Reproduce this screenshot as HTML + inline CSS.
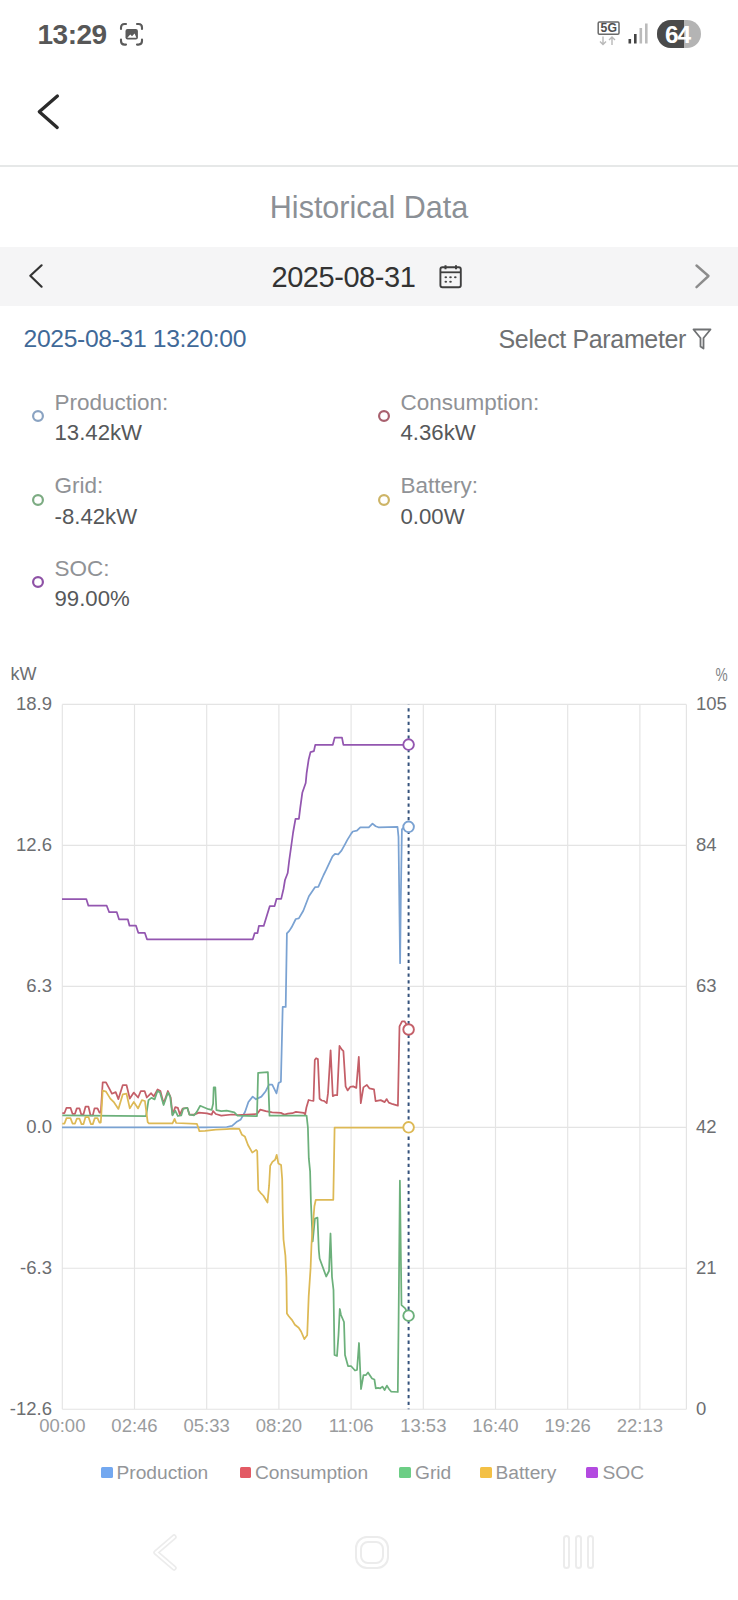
<!DOCTYPE html>
<html><head><meta charset="utf-8"><title>Historical Data</title>
<style>
html,body{margin:0;padding:0;background:#fff;}
body{width:738px;height:1600px;position:relative;overflow:hidden;font-family:"Liberation Sans", sans-serif;}
</style></head><body>
<div style='position:absolute;top:20.65px;font-size:28px;line-height:28px;color:#575757;font-weight:700;white-space:nowrap;letter-spacing:-0.5px;left:37.50px;'>13:29</div>
<svg style="position:absolute;left:114px;top:18px" width="36" height="32" viewBox="0 0 36 32">
<g fill="none" stroke="#5a5a5a" stroke-width="2.1" stroke-linecap="round">
<path d="M7 11 V9.5 Q7 6 10.5 6 H12"/><path d="M23 6 H24.5 Q28 6 28 9.5 V11"/>
<path d="M28 21.6 V23.1 Q28 26.6 24.5 26.6 H23"/><path d="M12 26.6 H10.5 Q7 26.6 7 23.1 V21.6"/>
</g>
<rect x="11.5" y="11" width="12.4" height="10.5" rx="2" fill="#5a5a5a"/>
<path d="M13.3 19.8 L16.3 16.6 L18 18.2 L20.6 15.6 L22.4 19.8 Z" fill="#fff"/>
</svg>
<svg style="position:absolute;left:595px;top:19px" width="28" height="30" viewBox="0 0 28 30">
<rect x="3.2" y="3" width="20.8" height="12.3" rx="1.2" fill="none" stroke="#6a6a6a" stroke-width="1.5"/>
<text x="5.6" y="13.3" font-family="Liberation Sans" font-weight="700" font-size="12" fill="#4e4e4e" textLength="16.3" lengthAdjust="spacingAndGlyphs">5G</text>
<g stroke="#b8b8b8" stroke-width="1.4" fill="none"><path d="M8 17.5 V25.5 M5 22.5 L8 25.5 L11 22.5"/><path d="M17 26 V18 M14 21 L17 18 L20 21"/></g>
</svg>
<svg style="position:absolute;left:626px;top:22px" width="24" height="24" viewBox="0 0 24 24">
<rect x="2.5" y="17" width="2.6" height="4.5" fill="#444"/>
<rect x="8" y="12" width="2.6" height="9.5" fill="#444"/>
<rect x="13.5" y="6" width="2.6" height="15.5" fill="#bbb"/>
<rect x="19" y="1.5" width="2.6" height="20" fill="#bbb"/>
</svg>
<div style="position:absolute;left:657px;top:20px;width:44px;height:28px;border-radius:14px;overflow:hidden;background:#b4b4b4">
<div style="position:absolute;left:0;top:0;width:27px;height:28px;background:#4a4a4a"></div></div>
<div style='position:absolute;top:23.00px;font-size:24.5px;line-height:24.5px;color:#fff;font-weight:700;white-space:nowrap;letter-spacing:-1.2px;left:665.00px;'>64</div>
<svg style="position:absolute;left:30px;top:88px" width="36" height="48" viewBox="0 0 36 48">
<path d="M27.4 8 L9.3 23.7 L27.2 39.4" fill="none" stroke="#2b2b2b" stroke-width="3.3" stroke-linecap="round" stroke-linejoin="round"/>
</svg>
<div style="position:absolute;left:0;top:164.5px;width:738px;height:2px;background:#e6e8e8"></div>
<div style='position:absolute;top:192.42px;font-size:30.5px;line-height:30.5px;color:#8b9096;font-weight:400;white-space:nowrap;left:69.00px;width:600px;text-align:center;'>Historical Data</div>
<div style="position:absolute;left:0;top:246.5px;width:738px;height:59.5px;background:#f5f5f6"></div>
<svg style="position:absolute;left:24px;top:258px" width="26" height="36" viewBox="0 0 26 36">
<path d="M17.6 7.3 L6.3 17.8 L17.6 28.7" fill="none" stroke="#333" stroke-width="2.2" stroke-linecap="round" stroke-linejoin="round"/></svg>
<div style='position:absolute;top:263.22px;font-size:29px;line-height:29px;color:#333;font-weight:400;white-space:nowrap;letter-spacing:-0.45px;left:271.50px;'>2025-08-31</div>
<svg style="position:absolute;left:438px;top:264px" width="26" height="25" viewBox="0 0 26 25">
<rect x="2.4" y="3.3" width="20.4" height="19.9" rx="2" fill="none" stroke="#3f3f3f" stroke-width="1.9"/>
<path d="M2.4 8.3 H22.8" stroke="#3f3f3f" stroke-width="1.8"/>
<path d="M7.5 1.3 V5.3 M18 1.3 V5.3" stroke="#3f3f3f" stroke-width="2"/>
<g fill="#444"><ellipse cx="7.8" cy="13.2" rx="1.3" ry="1"/><ellipse cx="12.5" cy="13.2" rx="1.3" ry="1"/><ellipse cx="17.3" cy="13.2" rx="1.3" ry="1"/>
<ellipse cx="7.8" cy="17.8" rx="1.3" ry="1"/><ellipse cx="12.5" cy="17.8" rx="1.3" ry="1"/></g>
</svg>
<svg style="position:absolute;left:690px;top:258px" width="26" height="36" viewBox="0 0 26 36">
<path d="M6.5 7.5 L18.5 18 L6.5 29.2" fill="none" stroke="#8c8c8c" stroke-width="2.4" stroke-linecap="round" stroke-linejoin="round"/></svg>
<div style='position:absolute;top:326.98px;font-size:24.7px;line-height:24.7px;color:#3f6998;font-weight:400;white-space:nowrap;letter-spacing:-0.35px;left:23.50px;'>2025-08-31 13:20:00</div>
<div style='position:absolute;top:326.74px;font-size:25px;line-height:25px;color:#6f7173;font-weight:400;white-space:nowrap;letter-spacing:-0.35px;left:498.50px;'>Select Parameter</div>
<svg style="position:absolute;left:691px;top:327px" width="22" height="24" viewBox="0 0 22 24">
<path d="M2.5 2.5 H19.5 L12.5 11 V21.5 L9.5 19.5 V11 Z" fill="none" stroke="#6f7173" stroke-width="1.8" stroke-linejoin="round"/></svg>
<svg style="position:absolute;left:30.40px;top:407.90px" width="16" height="16" viewBox="0 0 16 16"><circle cx="8" cy="8" r="4.9" fill="none" stroke="#8aa3c2" stroke-width="2.2"/></svg>
<div style='position:absolute;top:391.86px;font-size:22.5px;line-height:22.5px;color:#909296;font-weight:400;white-space:nowrap;left:54.50px;'>Production:</div>
<div style='position:absolute;top:422.10px;font-size:22.2px;line-height:22.2px;color:#56585a;font-weight:400;white-space:nowrap;left:54.50px;'>13.42kW</div>
<svg style="position:absolute;left:376.40px;top:407.80px" width="16" height="16" viewBox="0 0 16 16"><circle cx="8" cy="8" r="4.9" fill="none" stroke="#a8606e" stroke-width="2.2"/></svg>
<div style='position:absolute;top:391.86px;font-size:22.5px;line-height:22.5px;color:#909296;font-weight:400;white-space:nowrap;left:400.50px;'>Consumption:</div>
<div style='position:absolute;top:422.10px;font-size:22.2px;line-height:22.2px;color:#56585a;font-weight:400;white-space:nowrap;left:400.50px;'>4.36kW</div>
<svg style="position:absolute;left:30.40px;top:491.60px" width="16" height="16" viewBox="0 0 16 16"><circle cx="8" cy="8" r="4.9" fill="none" stroke="#7cab82" stroke-width="2.2"/></svg>
<div style='position:absolute;top:475.36px;font-size:22.5px;line-height:22.5px;color:#909296;font-weight:400;white-space:nowrap;left:54.50px;'>Grid:</div>
<div style='position:absolute;top:505.80px;font-size:22.2px;line-height:22.2px;color:#56585a;font-weight:400;white-space:nowrap;left:54.50px;'>-8.42kW</div>
<svg style="position:absolute;left:376.40px;top:491.60px" width="16" height="16" viewBox="0 0 16 16"><circle cx="8" cy="8" r="4.9" fill="none" stroke="#cdb466" stroke-width="2.2"/></svg>
<div style='position:absolute;top:475.36px;font-size:22.5px;line-height:22.5px;color:#909296;font-weight:400;white-space:nowrap;left:400.50px;'>Battery:</div>
<div style='position:absolute;top:505.80px;font-size:22.2px;line-height:22.2px;color:#56585a;font-weight:400;white-space:nowrap;left:400.50px;'>0.00W</div>
<svg style="position:absolute;left:30.40px;top:573.60px" width="16" height="16" viewBox="0 0 16 16"><circle cx="8" cy="8" r="4.9" fill="none" stroke="#8e52a6" stroke-width="2.2"/></svg>
<div style='position:absolute;top:558.06px;font-size:22.5px;line-height:22.5px;color:#909296;font-weight:400;white-space:nowrap;left:54.50px;'>SOC:</div>
<div style='position:absolute;top:588.10px;font-size:22.2px;line-height:22.2px;color:#56585a;font-weight:400;white-space:nowrap;left:54.50px;'>99.00%</div>
<svg style="position:absolute;left:0;top:0" width="738" height="1600" viewBox="0 0 738 1600">
<path d="M62.3 704.4 V1409.2 M134.5 704.4 V1409.2 M206.7 704.4 V1409.2 M278.9 704.4 V1409.2 M351.1 704.4 V1409.2 M423.3 704.4 V1409.2 M495.5 704.4 V1409.2 M567.7 704.4 V1409.2 M639.9 704.4 V1409.2 M686.4 704.4 V1409.2 M62.3 704.4 H686.4 M62.3 845.4 H686.4 M62.3 986.3 H686.4 M62.3 1127.3 H686.4 M62.3 1268.2 H686.4 M62.3 1409.2 H686.4" stroke="#e4e4e4" stroke-width="1.15" fill="none"/>
<polyline points="62.0,1127.3 205.0,1127.3 226.7,1127.0 232.1,1125.9 236.4,1122.1 240.8,1119.4 245.1,1111.8 248.4,1102.0 252.7,1096.6 256.0,1099.3 261.4,1096.6 265.7,1091.2 269.0,1084.7 272.2,1084.7 276.5,1093.4 278.6,1083.0 280.9,1081.7 282.7,1006.9 285.7,1006.9 286.9,933.3 289.3,930.9 291.6,927.3 295.8,919.0 298.8,918.4 303.3,910.8 308.9,896.2 315.0,887.2 318.3,886.8 323.6,875.0 326.0,870.2 332.5,856.3 335.0,853.9 338.2,854.3 341.5,850.7 345.5,843.3 347.2,840.1 351.2,833.6 352.8,831.5 356.9,830.7 360.3,827.3 368.8,827.3 372.5,823.6 375.7,826.2 378.4,827.3 397.5,826.8 398.5,836.9 400.1,963.2 400.8,900.6 401.9,829.4 404.9,826.2 408.6,826.8" fill="none" stroke="#7aa2d2" stroke-width="1.75" stroke-linejoin="round" stroke-linecap="butt"/>
<polyline points="62.3,1113.0 64.5,1113.0 66.5,1107.8 70.5,1107.8 72.5,1113.8 75.0,1113.8 76.8,1108.4 79.5,1108.4 81.2,1114.3 83.5,1114.3 85.5,1106.7 88.5,1106.7 90.5,1115.4 92.8,1115.4 94.5,1108.4 97.5,1108.4 99.5,1112.7 100.8,1112.7 102.7,1082.3 106.0,1082.3 109.2,1088.3 111.9,1093.7 115.7,1092.1 118.4,1099.1 122.8,1085.0 126.5,1085.0 129.8,1098.6 133.8,1092.6 138.1,1097.5 140.8,1091.0 144.6,1091.0 146.8,1097.5 151.1,1093.2 153.8,1096.4 157.6,1089.4 160.4,1091.0 163.6,1103.5 167.9,1091.0 170.7,1097.5 172.5,1114.6 175.2,1107.2 177.9,1107.9 179.9,1114.6 182.6,1108.6 187.4,1107.9 189.4,1114.6 194.1,1114.6 198.9,1112.6 207.0,1113.3 211.7,1114.6 213.1,1111.0 215.8,1114.0 221.3,1115.6 232.1,1114.5 237.5,1115.0 257.0,1114.0 260.3,1109.6 265.7,1111.2 272.2,1112.3 280.9,1112.9 284.4,1114.6 287.9,1113.7 292.3,1113.2 295.9,1111.9 303.8,1112.8 305.1,1114.6 306.4,1107.5 308.6,1100.0 310.8,1100.5 313.5,1100.9 314.8,1060.0 316.1,1058.2 317.9,1059.1 319.6,1098.7 321.8,1100.5 324.0,1100.9 326.7,1103.1 328.0,1093.4 330.6,1050.3 332.8,1096.1 334.6,1095.2 337.2,1095.2 339.5,1045.9 341.7,1049.4 343.4,1051.1 345.6,1086.4 347.6,1090.4 350.2,1086.9 353.2,1086.4 356.3,1087.9 358.8,1056.9 360.8,1103.1 363.4,1087.4 366.9,1084.9 369.5,1088.4 374.0,1089.4 375.6,1101.1 380.7,1100.1 384.7,1102.1 386.7,1099.1 388.8,1102.6 392.8,1104.2 397.9,1105.7 399.5,1026.4 402.0,1021.3 404.5,1021.3 407.1,1025.4 408.6,1029.5" fill="none" stroke="#c45f68" stroke-width="1.75" stroke-linejoin="round" stroke-linecap="butt"/>
<polyline points="62.3,1115.3 146.1,1116.0 148.5,1100.2 151.4,1097.8 154.6,1099.4 157.5,1091.0 160.0,1092.5 163.6,1105.0 168.0,1092.5 170.1,1096.5 172.5,1115.3 175.2,1110.6 177.9,1116.0 181.3,1115.3 183.3,1108.6 187.4,1107.9 189.4,1114.6 194.1,1115.3 196.8,1111.9 200.2,1105.8 208.4,1109.2 211.7,1109.9 213.1,1103.8 213.7,1087.4 215.3,1087.4 216.4,1110.2 221.3,1111.2 226.7,1110.7 234.3,1112.3 237.5,1115.6 257.0,1116.1 258.1,1072.8 267.9,1072.2 269.5,1115.6 306.6,1115.6 307.9,1127.5 308.8,1158.2 310.1,1171.3 310.9,1202.0 312.7,1241.4 314.9,1218.6 317.5,1217.7 318.8,1250.0 319.6,1258.5 326.2,1276.5 329.0,1271.0 330.5,1233.5 332.0,1277.0 333.5,1290.0 334.5,1355.0 337.0,1356.0 338.5,1335.0 339.8,1309.0 341.0,1315.0 344.0,1322.0 345.0,1355.0 348.0,1366.0 351.0,1366.0 355.0,1370.5 357.0,1370.0 359.0,1343.0 361.0,1389.0 363.5,1375.0 366.0,1375.0 368.0,1372.5 372.0,1378.5 374.4,1379.5 375.8,1388.3 378.1,1387.9 380.2,1388.3 382.5,1386.6 384.6,1390.0 386.9,1385.6 389.0,1389.0 391.3,1391.7 397.8,1392.0 398.5,1330.0 399.9,1180.6 401.5,1305.1 405.2,1308.3 408.6,1315.7" fill="none" stroke="#6cb07b" stroke-width="1.75" stroke-linejoin="round" stroke-linecap="butt"/>
<polyline points="62.3,1123.5 64.5,1123.5 66.5,1118.1 70.5,1118.1 72.5,1123.5 75.0,1123.5 76.8,1118.7 79.5,1118.7 81.5,1124.1 83.5,1124.1 85.5,1117.0 88.5,1117.0 90.8,1124.1 92.8,1124.1 94.8,1118.1 97.5,1118.1 99.4,1122.5 100.8,1122.5 102.7,1090.5 106.0,1091.6 110.3,1098.6 114.1,1102.4 118.4,1108.9 122.8,1094.3 126.5,1093.7 129.8,1108.4 133.8,1101.9 138.1,1108.4 141.9,1100.2 144.9,1101.0 147.7,1122.2 148.9,1123.4 172.5,1123.4 174.6,1118.9 176.2,1123.0 196.9,1123.8 199.4,1131.1 205.0,1130.8 215.8,1129.7 226.7,1129.1 233.2,1128.6 239.3,1128.8 242.0,1134.8 244.8,1136.4 248.0,1145.0 252.3,1152.6 256.1,1149.9 257.2,1151.0 258.3,1190.0 260.5,1192.8 263.2,1195.5 267.5,1202.5 269.1,1185.7 270.2,1165.7 272.4,1161.9 275.1,1159.7 276.7,1154.8 278.4,1163.5 281.1,1165.1 282.2,1179.2 282.7,1211.7 283.5,1239.5 285.4,1255.6 286.4,1277.4 286.9,1313.5 288.8,1316.3 292.1,1320.1 294.9,1324.8 298.7,1327.7 301.1,1331.5 304.4,1339.1 307.2,1335.3 308.7,1296.4 310.6,1267.9 311.5,1244.2 312.5,1230.0 314.4,1206.3 315.8,1199.8 333.3,1199.8 334.6,1127.5 408.6,1127.5" fill="none" stroke="#ddb955" stroke-width="1.75" stroke-linejoin="round" stroke-linecap="butt"/>
<polyline points="62.0,899.0 86.3,899.0 88.4,905.7 106.7,905.7 109.2,912.2 116.8,912.2 119.0,919.3 127.8,919.3 129.5,925.7 136.0,925.7 138.3,932.8 144.8,932.8 147.0,939.3 252.8,939.3 254.7,933.0 257.5,933.0 258.9,925.9 263.7,925.9 269.8,906.0 274.6,906.0 276.5,898.9 281.2,898.9 283.5,889.0 285.0,880.0 287.7,873.0 289.2,860.5 291.1,847.0 293.1,832.5 295.5,818.9 298.9,818.9 300.3,807.3 302.3,792.8 305.7,783.0 306.6,773.4 308.6,759.8 310.5,752.1 313.9,751.1 315.3,744.8 332.8,744.8 334.7,737.6 342.0,737.6 343.4,744.8 408.6,744.8" fill="none" stroke="#9356b0" stroke-width="1.75" stroke-linejoin="round" stroke-linecap="butt"/>
<path d="M408.6 704.4 V1409.2" stroke="#35527c" stroke-width="2" stroke-dasharray="3.3 3.5" stroke-dashoffset="3"/>
<circle cx="408.6" cy="744.6" r="5.3" fill="#fff" stroke="#9356b0" stroke-width="1.9"/>
<circle cx="408.6" cy="826.8" r="5.3" fill="#fff" stroke="#7aa2d2" stroke-width="1.9"/>
<circle cx="408.6" cy="1029.5" r="5.3" fill="#fff" stroke="#c45f68" stroke-width="1.9"/>
<circle cx="408.6" cy="1127.3" r="5.3" fill="#fff" stroke="#ddb955" stroke-width="1.9"/>
<circle cx="408.6" cy="1315.7" r="5.3" fill="#fff" stroke="#6cb07b" stroke-width="1.9"/>
</svg>
<div style='position:absolute;top:665.45px;font-size:18px;line-height:18px;color:#6c6e71;font-weight:-0.3;white-space:nowrap;left:10.50px;'>kW</div>
<div style='position:absolute;top:666.72px;font-size:17.5px;line-height:17.5px;color:#808285;font-weight:400;white-space:nowrap;right:10.50px;transform:scaleX(0.78);transform-origin:100% 50%;'>%</div>
<div style='position:absolute;top:694.99px;font-size:18.5px;line-height:18.5px;color:#6c6e71;font-weight:400;white-space:nowrap;right:686.00px;'>18.9</div>
<div style='position:absolute;top:694.99px;font-size:18.5px;line-height:18.5px;color:#6c6e71;font-weight:400;white-space:nowrap;left:696.00px;'>105</div>
<div style='position:absolute;top:835.95px;font-size:18.5px;line-height:18.5px;color:#6c6e71;font-weight:400;white-space:nowrap;right:686.00px;'>12.6</div>
<div style='position:absolute;top:835.95px;font-size:18.5px;line-height:18.5px;color:#6c6e71;font-weight:400;white-space:nowrap;left:696.00px;'>84</div>
<div style='position:absolute;top:976.91px;font-size:18.5px;line-height:18.5px;color:#6c6e71;font-weight:400;white-space:nowrap;right:686.00px;'>6.3</div>
<div style='position:absolute;top:976.91px;font-size:18.5px;line-height:18.5px;color:#6c6e71;font-weight:400;white-space:nowrap;left:696.00px;'>63</div>
<div style='position:absolute;top:1117.87px;font-size:18.5px;line-height:18.5px;color:#6c6e71;font-weight:400;white-space:nowrap;right:686.00px;'>0.0</div>
<div style='position:absolute;top:1117.87px;font-size:18.5px;line-height:18.5px;color:#6c6e71;font-weight:400;white-space:nowrap;left:696.00px;'>42</div>
<div style='position:absolute;top:1258.83px;font-size:18.5px;line-height:18.5px;color:#6c6e71;font-weight:400;white-space:nowrap;right:686.00px;'>-6.3</div>
<div style='position:absolute;top:1258.83px;font-size:18.5px;line-height:18.5px;color:#6c6e71;font-weight:400;white-space:nowrap;left:696.00px;'>21</div>
<div style='position:absolute;top:1399.79px;font-size:18.5px;line-height:18.5px;color:#6c6e71;font-weight:400;white-space:nowrap;right:686.00px;'>-12.6</div>
<div style='position:absolute;top:1399.79px;font-size:18.5px;line-height:18.5px;color:#6c6e71;font-weight:400;white-space:nowrap;left:696.00px;'>0</div>
<div style='position:absolute;top:1416.59px;font-size:18.5px;line-height:18.5px;color:#9a9c9e;font-weight:400;white-space:nowrap;left:-237.70px;width:600px;text-align:center;'>00:00</div>
<div style='position:absolute;top:1416.59px;font-size:18.5px;line-height:18.5px;color:#9a9c9e;font-weight:400;white-space:nowrap;left:-165.50px;width:600px;text-align:center;'>02:46</div>
<div style='position:absolute;top:1416.59px;font-size:18.5px;line-height:18.5px;color:#9a9c9e;font-weight:400;white-space:nowrap;left:-93.30px;width:600px;text-align:center;'>05:33</div>
<div style='position:absolute;top:1416.59px;font-size:18.5px;line-height:18.5px;color:#9a9c9e;font-weight:400;white-space:nowrap;left:-21.10px;width:600px;text-align:center;'>08:20</div>
<div style='position:absolute;top:1416.59px;font-size:18.5px;line-height:18.5px;color:#9a9c9e;font-weight:400;white-space:nowrap;left:51.10px;width:600px;text-align:center;'>11:06</div>
<div style='position:absolute;top:1416.59px;font-size:18.5px;line-height:18.5px;color:#9a9c9e;font-weight:400;white-space:nowrap;left:123.30px;width:600px;text-align:center;'>13:53</div>
<div style='position:absolute;top:1416.59px;font-size:18.5px;line-height:18.5px;color:#9a9c9e;font-weight:400;white-space:nowrap;left:195.50px;width:600px;text-align:center;'>16:40</div>
<div style='position:absolute;top:1416.59px;font-size:18.5px;line-height:18.5px;color:#9a9c9e;font-weight:400;white-space:nowrap;left:267.70px;width:600px;text-align:center;'>19:26</div>
<div style='position:absolute;top:1416.59px;font-size:18.5px;line-height:18.5px;color:#9a9c9e;font-weight:400;white-space:nowrap;left:339.90px;width:600px;text-align:center;'>22:13</div>
<div style="position:absolute;left:101px;top:1466.5px;width:11.5px;height:11.5px;border-radius:1.5px;background:#73a8f0"></div>
<div style='position:absolute;top:1463.19px;font-size:19.2px;line-height:19.2px;color:#949699;font-weight:400;white-space:nowrap;left:116.50px;'>Production</div>
<div style="position:absolute;left:239.5px;top:1466.5px;width:11.5px;height:11.5px;border-radius:1.5px;background:#e35a64"></div>
<div style='position:absolute;top:1463.19px;font-size:19.2px;line-height:19.2px;color:#949699;font-weight:400;white-space:nowrap;left:255.00px;'>Consumption</div>
<div style="position:absolute;left:399.3px;top:1466.5px;width:11.5px;height:11.5px;border-radius:1.5px;background:#6cce85"></div>
<div style='position:absolute;top:1463.19px;font-size:19.2px;line-height:19.2px;color:#949699;font-weight:400;white-space:nowrap;left:415.00px;'>Grid</div>
<div style="position:absolute;left:480.1px;top:1466.5px;width:11.5px;height:11.5px;border-radius:1.5px;background:#f3c045"></div>
<div style='position:absolute;top:1463.19px;font-size:19.2px;line-height:19.2px;color:#949699;font-weight:400;white-space:nowrap;left:495.50px;'>Battery</div>
<div style="position:absolute;left:586.4px;top:1466.5px;width:11.5px;height:11.5px;border-radius:1.5px;background:#b34ae0"></div>
<div style='position:absolute;top:1463.19px;font-size:19.2px;line-height:19.2px;color:#949699;font-weight:400;white-space:nowrap;left:602.50px;'>SOC</div>
<svg style="position:absolute;left:0;top:1520px" width="738" height="70" viewBox="0 1520 738 70">
<g fill="none" stroke="#ececec" stroke-width="2">
<path d="M174 1537 L156 1552.5 L174 1568" stroke-width="5.5" stroke-linecap="round" stroke-linejoin="round"/>
<rect x="356" y="1537" width="32" height="31" rx="11" stroke-width="2"/>
<rect x="361" y="1542" width="22" height="21" rx="7" stroke-width="2"/>
<rect x="564" y="1536" width="5" height="32" rx="2.5"/><rect x="576" y="1536" width="5" height="32" rx="2.5"/><rect x="588" y="1536" width="5" height="32" rx="2.5"/>
</g>
<path d="M174 1537 L156 1552.5 L174 1568" fill="none" stroke="#fff" stroke-width="2.2" stroke-linecap="round" stroke-linejoin="round"/>
</svg>
</body></html>
